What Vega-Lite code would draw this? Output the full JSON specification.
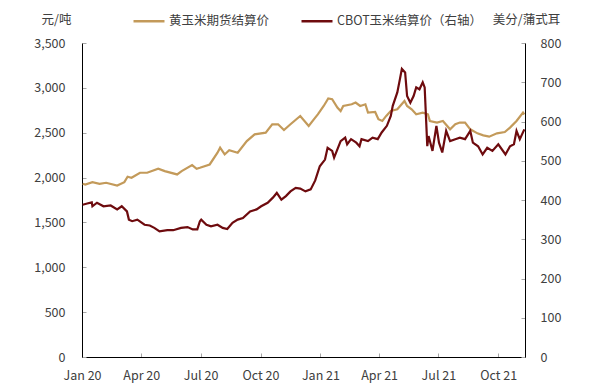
{
  "$schema": "https://vega.github.io/schema/vega-lite/v6.json",
  "width": 443,
  "height": 314,
  "autosize": {"type": "none"},
  "padding": {"left": 82, "top": 43, "right": 76, "bottom": 28},
  "background": "white",
  "config": {
    "font": "Noto Sans CJK SC",
    "view": {"stroke": null},
    "axis": {
      "grid": false,
      "domainColor": "#000000",
      "domainWidth": 1,
      "tickColor": "#A6A6A6",
      "tickSize": -4,
      "labelFontSize": 12.5,
      "labelColor": "#404040",
      "labelFont": "Noto Sans CJK SC",
      "titleFont": "Noto Sans CJK SC",
      "titleFontSize": 12.5,
      "titleFontWeight": "normal",
      "titleColor": "#404040",
      "labelOverlap": false
    }
  },
  "datasets": {
    "gold": [
      {"d": "2020-01-02", "v": 1931}, {"d": "2020-01-06", "v": 1923}, {"d": "2020-01-17", "v": 1949},
      {"d": "2020-01-28", "v": 1931}, {"d": "2020-02-07", "v": 1942}, {"d": "2020-02-24", "v": 1912},
      {"d": "2020-03-06", "v": 1949}, {"d": "2020-03-11", "v": 2009}, {"d": "2020-03-17", "v": 1998},
      {"d": "2020-03-30", "v": 2054}, {"d": "2020-04-10", "v": 2054}, {"d": "2020-04-27", "v": 2098},
      {"d": "2020-05-07", "v": 2072}, {"d": "2020-05-26", "v": 2035}, {"d": "2020-06-02", "v": 2072},
      {"d": "2020-06-18", "v": 2139}, {"d": "2020-06-25", "v": 2098}, {"d": "2020-06-30", "v": 2109},
      {"d": "2020-07-15", "v": 2146}, {"d": "2020-07-27", "v": 2277}, {"d": "2020-07-31", "v": 2333},
      {"d": "2020-08-07", "v": 2258}, {"d": "2020-08-14", "v": 2306}, {"d": "2020-08-27", "v": 2277},
      {"d": "2020-09-10", "v": 2407}, {"d": "2020-09-22", "v": 2482}, {"d": "2020-10-09", "v": 2501},
      {"d": "2020-10-19", "v": 2594}, {"d": "2020-10-28", "v": 2594}, {"d": "2020-11-06", "v": 2530},
      {"d": "2020-11-16", "v": 2594}, {"d": "2020-12-01", "v": 2687}, {"d": "2020-12-14", "v": 2575},
      {"d": "2020-12-24", "v": 2668}, {"d": "2020-12-28", "v": 2705}, {"d": "2021-01-06", "v": 2798},
      {"d": "2021-01-13", "v": 2881}, {"d": "2021-01-19", "v": 2873}, {"d": "2021-01-27", "v": 2780},
      {"d": "2021-02-01", "v": 2742}, {"d": "2021-02-05", "v": 2798}, {"d": "2021-02-18", "v": 2817},
      {"d": "2021-02-24", "v": 2836}, {"d": "2021-03-03", "v": 2798}, {"d": "2021-03-11", "v": 2817},
      {"d": "2021-03-15", "v": 2724}, {"d": "2021-03-26", "v": 2731}, {"d": "2021-03-31", "v": 2650},
      {"d": "2021-04-06", "v": 2631}, {"d": "2021-04-12", "v": 2687}, {"d": "2021-04-19", "v": 2742},
      {"d": "2021-04-29", "v": 2761}, {"d": "2021-05-10", "v": 2854}, {"d": "2021-05-14", "v": 2798},
      {"d": "2021-05-21", "v": 2761}, {"d": "2021-05-28", "v": 2705}, {"d": "2021-06-07", "v": 2724},
      {"d": "2021-06-15", "v": 2705}, {"d": "2021-06-18", "v": 2631}, {"d": "2021-06-29", "v": 2613},
      {"d": "2021-07-08", "v": 2631}, {"d": "2021-07-19", "v": 2538}, {"d": "2021-07-27", "v": 2594},
      {"d": "2021-08-03", "v": 2613}, {"d": "2021-08-11", "v": 2613}, {"d": "2021-08-19", "v": 2538},
      {"d": "2021-08-30", "v": 2493}, {"d": "2021-09-08", "v": 2471}, {"d": "2021-09-17", "v": 2456},
      {"d": "2021-09-29", "v": 2493}, {"d": "2021-10-11", "v": 2508}, {"d": "2021-10-19", "v": 2557},
      {"d": "2021-10-29", "v": 2631}, {"d": "2021-11-08", "v": 2724}, {"d": "2021-11-10", "v": 2705}
    ],
    "cbot": [
      {"d": "2020-01-02", "v": 388}, {"d": "2020-01-09", "v": 391}, {"d": "2020-01-16", "v": 394},
      {"d": "2020-01-17", "v": 384}, {"d": "2020-01-24", "v": 393}, {"d": "2020-02-03", "v": 384},
      {"d": "2020-02-14", "v": 386}, {"d": "2020-02-24", "v": 376}, {"d": "2020-03-02", "v": 384},
      {"d": "2020-03-10", "v": 371}, {"d": "2020-03-13", "v": 350}, {"d": "2020-03-18", "v": 346},
      {"d": "2020-03-26", "v": 350}, {"d": "2020-04-06", "v": 337}, {"d": "2020-04-14", "v": 335},
      {"d": "2020-04-21", "v": 329}, {"d": "2020-04-29", "v": 320}, {"d": "2020-05-11", "v": 323},
      {"d": "2020-05-20", "v": 323}, {"d": "2020-06-01", "v": 329}, {"d": "2020-06-11", "v": 331},
      {"d": "2020-06-19", "v": 325}, {"d": "2020-06-26", "v": 325}, {"d": "2020-06-30", "v": 346},
      {"d": "2020-07-02", "v": 350}, {"d": "2020-07-10", "v": 337}, {"d": "2020-07-17", "v": 333},
      {"d": "2020-07-27", "v": 337}, {"d": "2020-08-04", "v": 329}, {"d": "2020-08-11", "v": 326},
      {"d": "2020-08-19", "v": 342}, {"d": "2020-08-27", "v": 350}, {"d": "2020-09-04", "v": 354},
      {"d": "2020-09-15", "v": 371}, {"d": "2020-09-25", "v": 376}, {"d": "2020-10-02", "v": 384},
      {"d": "2020-10-12", "v": 393}, {"d": "2020-10-20", "v": 406}, {"d": "2020-10-26", "v": 418},
      {"d": "2020-11-02", "v": 401}, {"d": "2020-11-09", "v": 410}, {"d": "2020-11-16", "v": 422},
      {"d": "2020-11-24", "v": 431}, {"d": "2020-12-01", "v": 429}, {"d": "2020-12-09", "v": 422},
      {"d": "2020-12-17", "v": 427}, {"d": "2020-12-24", "v": 450}, {"d": "2020-12-31", "v": 486},
      {"d": "2021-01-08", "v": 503}, {"d": "2021-01-12", "v": 533}, {"d": "2021-01-19", "v": 525},
      {"d": "2021-01-22", "v": 508}, {"d": "2021-02-01", "v": 550}, {"d": "2021-02-08", "v": 559},
      {"d": "2021-02-11", "v": 542}, {"d": "2021-02-17", "v": 555}, {"d": "2021-02-25", "v": 546},
      {"d": "2021-03-02", "v": 537}, {"d": "2021-03-05", "v": 555}, {"d": "2021-03-15", "v": 550},
      {"d": "2021-03-22", "v": 559}, {"d": "2021-03-30", "v": 555}, {"d": "2021-04-05", "v": 572},
      {"d": "2021-04-13", "v": 589}, {"d": "2021-04-19", "v": 614}, {"d": "2021-04-22", "v": 640},
      {"d": "2021-04-29", "v": 674}, {"d": "2021-05-03", "v": 708}, {"d": "2021-05-06", "v": 734},
      {"d": "2021-05-11", "v": 725}, {"d": "2021-05-14", "v": 665}, {"d": "2021-05-19", "v": 648},
      {"d": "2021-05-24", "v": 665}, {"d": "2021-05-28", "v": 687}, {"d": "2021-06-02", "v": 682},
      {"d": "2021-06-07", "v": 700}, {"d": "2021-06-10", "v": 687}, {"d": "2021-06-14", "v": 537},
      {"d": "2021-06-16", "v": 563}, {"d": "2021-06-22", "v": 525}, {"d": "2021-06-28", "v": 589},
      {"d": "2021-07-02", "v": 546}, {"d": "2021-07-07", "v": 521}, {"d": "2021-07-13", "v": 576},
      {"d": "2021-07-19", "v": 550}, {"d": "2021-07-27", "v": 555}, {"d": "2021-08-03", "v": 559},
      {"d": "2021-08-11", "v": 555}, {"d": "2021-08-19", "v": 576}, {"d": "2021-08-23", "v": 546},
      {"d": "2021-08-31", "v": 537}, {"d": "2021-09-07", "v": 516}, {"d": "2021-09-14", "v": 533},
      {"d": "2021-09-22", "v": 525}, {"d": "2021-10-01", "v": 542}, {"d": "2021-10-12", "v": 516},
      {"d": "2021-10-19", "v": 537}, {"d": "2021-10-25", "v": 542}, {"d": "2021-10-29", "v": 576},
      {"d": "2021-11-03", "v": 555}, {"d": "2021-11-10", "v": 580}
    ]
  },
  "encoding": {
    "x": {
      "field": "d",
      "type": "temporal",
      "scale": {
        "type": "utc",
        "domain": [
          {"year": 2020, "month": 1, "date": 1, "utc": true},
          {"year": 2021, "month": 11, "date": 11, "utc": true}
        ]
      },
      "axis": {
        "title": null,
        "format": "%b %y",
        "labelFlush": false,
        "labelPadding": 16,
        "values": [
          {"year": 2020, "month": 1, "date": 1, "utc": true},
          {"year": 2020, "month": 4, "date": 1, "utc": true},
          {"year": 2020, "month": 7, "date": 1, "utc": true},
          {"year": 2020, "month": 10, "date": 1, "utc": true},
          {"year": 2021, "month": 1, "date": 1, "utc": true},
          {"year": 2021, "month": 4, "date": 1, "utc": true},
          {"year": 2021, "month": 7, "date": 1, "utc": true},
          {"year": 2021, "month": 10, "date": 1, "utc": true}
        ]
      }
    }
  },
  "layer": [
    {
      "data": {"name": "gold"},
      "mark": {"type": "line", "strokeWidth": 2.2},
      "encoding": {
        "y": {
          "field": "v",
          "type": "quantitative",
          "scale": {"domain": [0, 3500]},
          "axis": {
            "orient": "left",
            "title": "元/吨",
            "titleAngle": 0,
            "titleAlign": "center",
            "titleBaseline": "middle",
            "titleX": -26,
            "titleY": -24,
            "format": ",.0f",
            "labelPadding": 21,
            "values": [0, 500, 1000, 1500, 2000, 2500, 3000, 3500]
          }
        },
        "color": {
          "datum": "黄玉米期货结算价",
          "type": "nominal",
          "scale": {
            "domain": ["黄玉米期货结算价", "CBOT玉米结算价（右轴）"],
            "range": ["#C39A5A", "#6E0B0E"]
          },
          "legend": {
            "orient": "none",
            "legendX": 50,
            "legendY": -39,
            "direction": "horizontal",
            "title": null,
            "symbolType": "stroke",
            "symbolSize": 961,
            "symbolStrokeWidth": 2.5,
            "labelFontSize": 12.5,
            "labelColor": "#404040",
            "labelFont": "Noto Sans CJK SC",
            "labelOffset": 3,
            "columnPadding": 26
          }
        }
      }
    },
    {
      "data": {"name": "cbot"},
      "mark": {"type": "line", "strokeWidth": 2.2},
      "encoding": {
        "y": {
          "field": "v",
          "type": "quantitative",
          "scale": {"domain": [0, 800]},
          "axis": {
            "orient": "right",
            "title": "美分/蒲式耳",
            "titleAngle": 0,
            "titleAlign": "center",
            "titleBaseline": "middle",
            "titleX": 1,
            "titleY": -24,
            "labelPadding": 19,
            "values": [0, 100, 200, 300, 400, 500, 600, 700, 800]
          }
        },
        "color": {"datum": "CBOT玉米结算价（右轴）", "type": "nominal"}
      }
    }
  ],
  "resolve": {"scale": {"y": "independent"}}
}
